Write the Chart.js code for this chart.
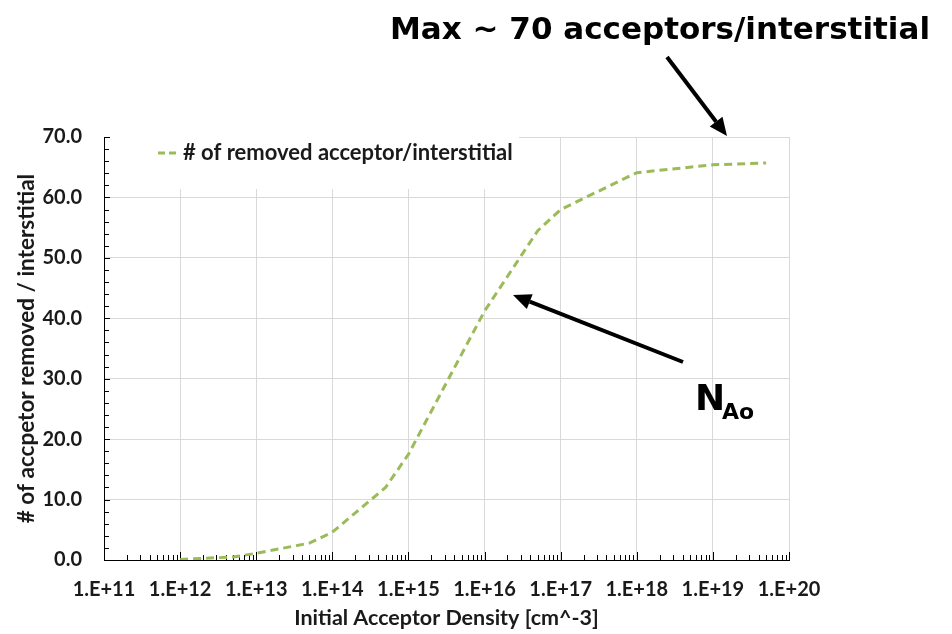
<!DOCTYPE html>
<html>
<head>
<meta charset="utf-8">
<script src="https://cdn.jsdelivr.net/npm/chart.js@4.4.1/dist/chart.umd.min.js"></script>
<style>
	html, body { margin: 0; padding: 0; background: #fff; }
	#wrap { width: 952px; height: 634px; }
</style>
</head>
<body>
<div id="wrap"><canvas id="myChart" width="952" height="634"></canvas></div>
<script>
// values
const densities = [1e12, 5e12, 1e13, 5e13, 1e14, 5e14, 1e15, 1e16, 5e16, 1e17, 1e18, 1e19, 5e19];
const removedPerInterstitial = [0.1, 0.5, 1.1, 2.8, 4.6, 12.0, 17.5, 41.2, 54.5, 58.0, 64.1, 65.4, 65.7];
const decadeExponents = [11, 12, 13, 14, 15, 16, 17, 18, 19, 20];
const minorMultipliers = [2, 3, 4, 5, 6, 7, 8, 9];
const yTicks = [0, 10, 20, 30, 40, 50, 60, 70];
const yMinorTicks = [2, 4, 6, 8];

const seriesLabel = '# of removed acceptor/interstitial';
const xTitle = 'Initial Acceptor Density [cm^-3]';
const yTitle = '# of accpetor removed / interstitial';
const maxNote = 'Max ~ 70 acceptors/interstitial';

const GREEN = '#9bbb59';
const INK = '#1a1a1a';
const FONT = 'Lato';
const NOTE_FONT = '"DejaVu Sans"';

// excel-like inside ticks, plus the legend box sitting on top of the grid
const excelBits = {
	id: 'excelBits',
	beforeDatasetsDraw(chart) {
		const {ctx, chartArea: a, scales: {x, y}} = chart;
		ctx.save();

		ctx.fillStyle = '#fff';
		ctx.fillRect(a.left + 1, a.top - 1, 518 - a.left, 53);

		ctx.strokeStyle = '#000';
		ctx.lineWidth = 1;
		ctx.beginPath();
		decadeExponents.forEach(e => {
			const major = Math.round(x.getPixelForValue(10 ** e)) + 0.5;
			ctx.moveTo(major, a.bottom);
			ctx.lineTo(major, a.bottom - 8);
			if (e === 20) return;
			minorMultipliers.forEach(m => {
				const px = Math.round(x.getPixelForValue(m * 10 ** e)) + 0.5;
				ctx.moveTo(px, a.bottom);
				ctx.lineTo(px, a.bottom - 5);
			});
		});
		yTicks.forEach(t => {
			const py = Math.round(y.getPixelForValue(t)) + 0.5;
			ctx.moveTo(a.left, py);
			ctx.lineTo(a.left + 6, py);
			if (t === 70) return;
			yMinorTicks.forEach(m => {
				const pm = Math.round(y.getPixelForValue(t + m)) + 0.5;
				ctx.moveTo(a.left, pm);
				ctx.lineTo(a.left + 5, pm);
			});
		});
		ctx.stroke();

		// legend
		const ly = a.top + 16;
		ctx.strokeStyle = GREEN;
		ctx.lineWidth = 3;
		ctx.setLineDash([7, 4]);
		ctx.beginPath();
		ctx.moveTo(a.left + 54, ly);
		ctx.lineTo(a.left + 75, ly);
		ctx.stroke();
		ctx.setLineDash([]);
		ctx.fillStyle = INK;
		ctx.font = 'bold 22px ' + FONT;
		ctx.textBaseline = 'middle';
		ctx.fillText(seriesLabel, a.left + 79, ly);

		ctx.restore();
	}
};

function arrow(ctx, x0, y0, x1, y1) {
	const ang = Math.atan2(y1 - y0, x1 - x0);
	const head = 18, half = 8;
	const bx = x1 - head * Math.cos(ang), by = y1 - head * Math.sin(ang);
	ctx.beginPath();
	ctx.moveTo(x0, y0);
	ctx.lineTo(bx, by);
	ctx.stroke();
	ctx.beginPath();
	ctx.moveTo(x1, y1);
	ctx.lineTo(bx + half * Math.sin(ang), by - half * Math.cos(ang));
	ctx.lineTo(bx - half * Math.sin(ang), by + half * Math.cos(ang));
	ctx.closePath();
	ctx.fill();
}

const callouts = {
	id: 'callouts',
	afterDraw(chart) {
		const ctx = chart.ctx;
		ctx.save();
		ctx.fillStyle = '#000';
		ctx.strokeStyle = '#000';
		ctx.lineWidth = 4;
		ctx.textBaseline = 'alphabetic';
		ctx.font = 'bold 31px ' + NOTE_FONT;
		ctx.fillText(maxNote, 390, 39);
		arrow(ctx, 667, 57, 727, 136);
		arrow(ctx, 683, 362, 513, 295);
		ctx.font = 'bold 36px ' + NOTE_FONT;
		ctx.fillText('N', 695, 410);
		ctx.font = 'bold 22px ' + NOTE_FONT;
		ctx.fillText('Ao', 722, 419);
		ctx.restore();
	}
};

const tickFont = {family: FONT, size: 20, weight: 'bold'};

new Chart(document.getElementById('myChart'), {
	type: 'line',
	data: {
		datasets: [{
			label: seriesLabel,
			data: densities.map((d, i) => ({x: d, y: removedPerInterstitial[i]})),
			borderColor: GREEN,
			borderWidth: 3,
			borderDash: [8, 5],
			pointRadius: 0,
			tension: 0,
			fill: false
		}]
	},
	options: {
		responsive: false,
		animation: false,
		devicePixelRatio: 1,
		layout: {padding: {top: 137, right: 163, left: 0, bottom: 0}},
		plugins: {legend: {display: false}, tooltip: {enabled: false}},
		scales: {
			x: {
				type: 'logarithmic',
				min: 1e11,
				max: 1e20,
				afterBuildTicks: s => { s.ticks = decadeExponents.map(e => ({value: 10 ** e})); },
				afterFit: s => { s.height = 74; },
				ticks: {
					callback: v => '1.E+' + Math.round(Math.log10(v)),
					font: tickFont,
					color: INK,
					padding: 18,
					maxRotation: 0,
					autoSkip: false
				},
				grid: {color: '#d9d9d9', drawTicks: false},
				border: {color: '#000', width: 1},
				title: {display: true, text: xTitle, font: {family: FONT, size: 21.5, weight: 'bold'}, color: INK, padding: {top: 0, bottom: 3}}
			},
			y: {
				min: 0,
				max: 70,
				afterBuildTicks: s => { s.ticks = yTicks.map(v => ({value: v})); },
				afterFit: s => { s.width = 104; },
				ticks: {
					callback: v => v.toFixed(1),
					font: tickFont,
					color: INK,
					padding: 22
				},
				grid: {color: '#d9d9d9', drawTicks: false},
				border: {color: '#000', width: 1},
				title: {display: true, text: yTitle, font: {family: FONT, size: 22.5, weight: 'bold'}, color: INK, padding: {top: 13, bottom: 0}}
			}
		}
	},
	plugins: [excelBits, callouts]
});
</script>
</body>
</html>
